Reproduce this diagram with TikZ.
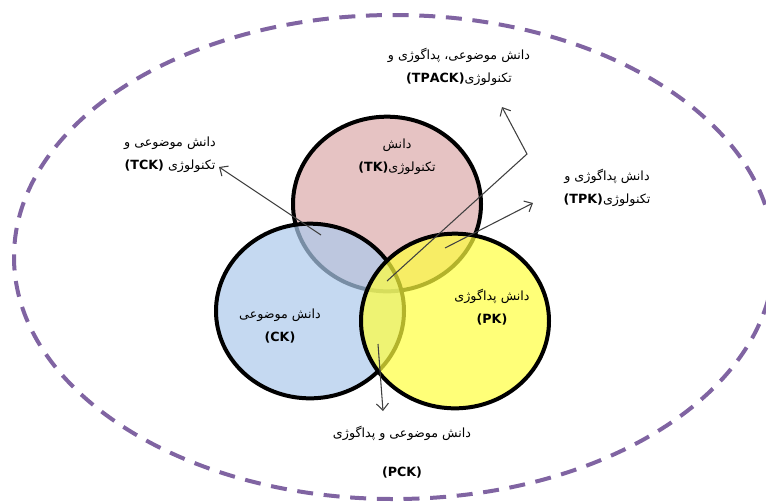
\documentclass[tikz,border=0pt]{standalone}
\usepackage{fontspec}
\setmainfont{DejaVu Sans}
\newfontfamily\persianfont[Script=Arabic]{DejaVu Sans}
\TeXXeTstate=1
\usetikzlibrary{arrows.meta,shapes.geometric}
\definecolor{tkpink}{RGB}{230,195,195}
\definecolor{ckblue}{RGB}{172,201,235}
\definecolor{pkyellow}{RGB}{255,255,62}
\definecolor{rimpurple}{RGB}{128,100,162}
\tikzset{
    %Define standard arrow tip
    >={Straight Barb[length=5pt,width=9pt]},
    %Define style for the three circles
    circ/.style={
           ellipse,
           draw=black, line width=3pt,
           minimum width=141pt,
           minimum height=131pt},
    % Define style for labels
    lbl/.style={
           font=\persianfont\fontsize{9.5}{17}\selectfont,
           align=center,
           text=black},
    % Define arrow style
    pil/.style={
           ->,
           draw=black!75,
           line width=0.8pt}
}

\begin{document}
\begin{tikzpicture}[x=0.75pt,y=-0.75pt]
\useasboundingbox (0,0) rectangle (766,501);

% outer dashed ring
\node[ellipse, draw=rimpurple, line width=3pt, dash pattern=on 12pt off 8pt,
      minimum width=570pt, minimum height=363pt] (rim) at (394,257) {};

% the three circles
\node[circ, fill=tkpink] (tkc) at (387,204) {};
\node[circ, fill=ckblue, fill opacity=0.7] (ckc) at (310,311) {};
\node[circ, fill=pkyellow, fill opacity=0.7] (pkc) at (455,321) {};

% labels inside the circles
\node[lbl] (tk) at (397,157) {\beginR دانش\endR\\ \beginR تکنولوژی\beginL\textbf{(TK)}\endL\endR};
\node[lbl] (ck) at (280,326) {\beginR دانش موضوعی\endR\\ \textbf{(CK)}};
\node[lbl] (pk) at (492,307) {\beginR دانش پداگوژی\endR\\ \textbf{(PK)}};

% labels outside
\node[lbl] (tpack) at (459,67) {\beginR دانش موضوعی، پداگوژی و\endR\\ \beginR تکنولوژی\beginL\textbf{(TPACK)}\endL\endR};
\node[lbl] (tck) at (170,155) {\beginR دانش موضوعی و\endR\\ \beginR تکنولوژی \beginL\textbf{(TCK)}\endL\endR};
\node[lbl] (tpk) at (607,188) {\beginR دانش پداگوژی و\endR\\ \beginR تکنولوژی\beginL\textbf{(TPK)}\endL\endR};
\node[lbl] (pck) at (402,452) {\beginR دانش موضوعی و پداگوژی\endR\\[12pt] \textbf{(PCK)}};

% arrow ends
\coordinate (tcktail) at (321,235);
\coordinate (tckhead) at (219,167);
\coordinate (tpacktail) at (387,281);
\coordinate (tpackbend) at (527,154);
\coordinate (tpackhead) at (502,107);
\coordinate (tpktail) at (445,248);
\coordinate (tpkhead) at (533,203);
\coordinate (pcktail) at (378,344);
\coordinate (pckhead) at (383,411);

\draw[pil] (tcktail) -- (tckhead);
\draw[pil] (tpacktail) -- (tpackbend) -- (tpackhead);
\draw[pil] (tpktail) -- (tpkhead);
\draw[pil] (pcktail) -- (pckhead);

\end{tikzpicture}
\end{document}
